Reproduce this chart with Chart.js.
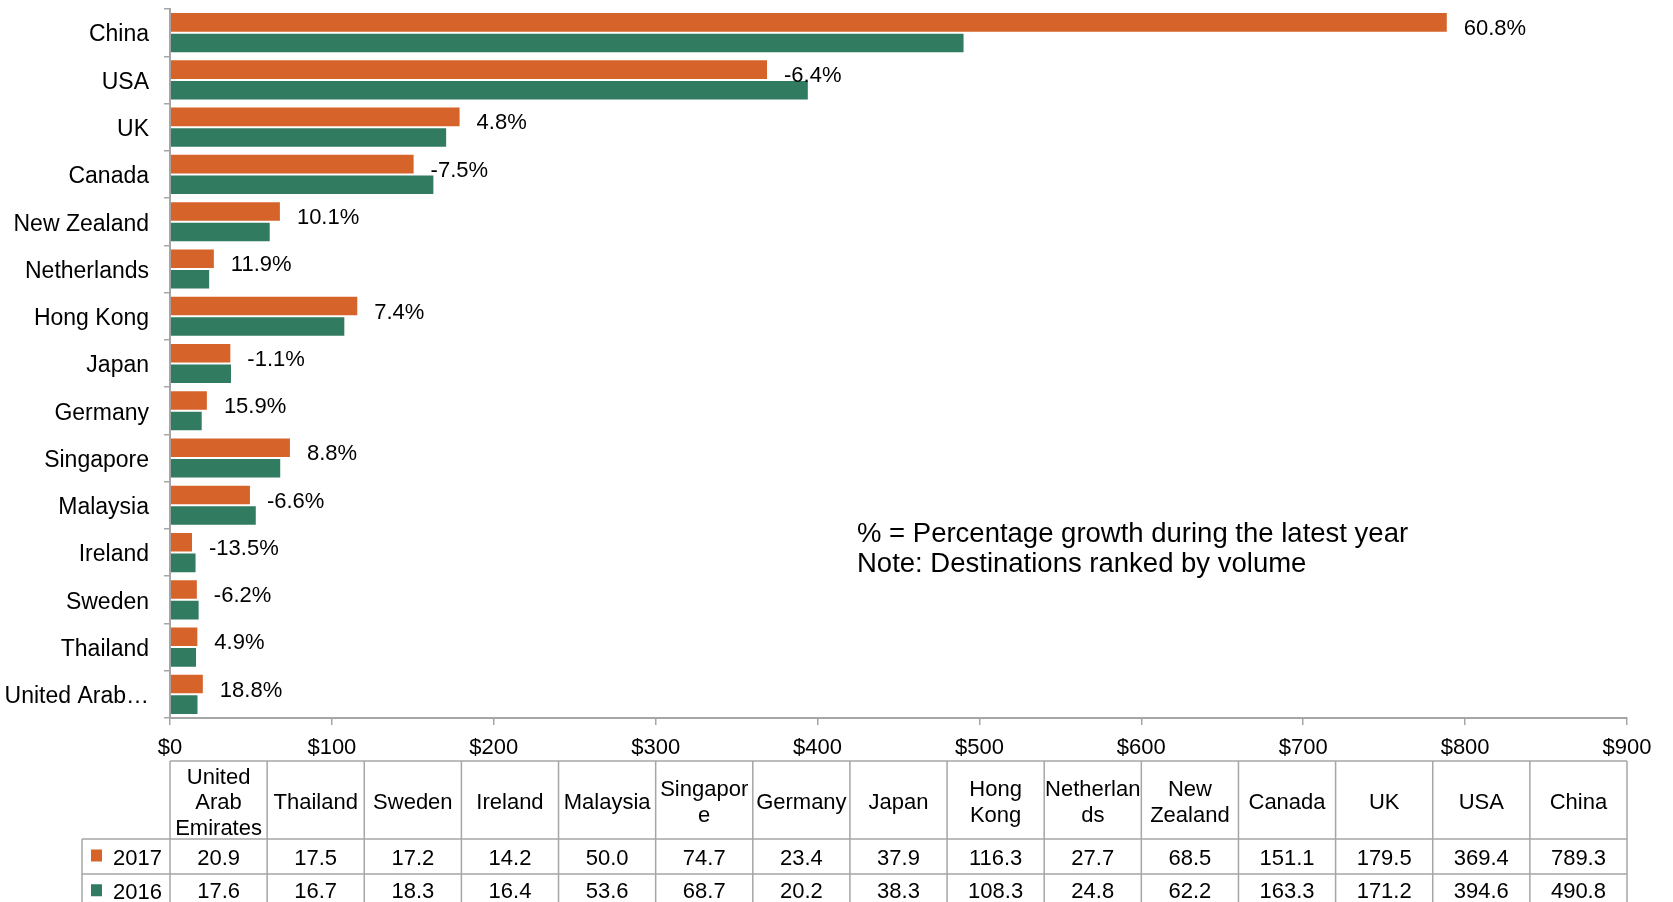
<!DOCTYPE html>
<html>
<head>
<meta charset="utf-8">
<title>Destinations by volume</title>
<script src="https://cdn.jsdelivr.net/npm/chart.js@4.4.1/dist/chart.umd.min.js"></script>
<style>
  html, body { margin: 0; padding: 0; background: #fff; }
  canvas { display: block; }
</style>
</head>
<body>
<canvas id="chart" width="1673" height="902"></canvas>
<script>
// Destinations, ranked by volume (top of the chart first)
const categories = ["China", "USA", "UK", "Canada", "New Zealand", "Netherlands", "Hong Kong", "Japan",
  "Germany", "Singapore", "Malaysia", "Ireland", "Sweden", "Thailand", "United Arab Emirates"];
const values2017 = [789.3, 369.4, 179.5, 151.1, 68.5, 27.7, 116.3, 37.9, 23.4, 74.7, 50.0, 14.2, 17.2, 17.5, 20.9];
const values2016 = [490.8, 394.6, 171.2, 163.3, 62.2, 24.8, 108.3, 38.3, 20.2, 68.7, 53.6, 16.4, 18.3, 16.7, 17.6];
// percentage growth during the latest year
const growthPct = [60.8, -6.4, 4.8, -7.5, 10.1, 11.9, 7.4, -1.1, 15.9, 8.8, -6.6, -13.5, -6.2, 4.9, 18.8];
const seriesNames = ["2017", "2016"];
const xTicks = [0, 100, 200, 300, 400, 500, 600, 700, 800, 900];
const noteLines = ["% = Percentage growth during the latest year", "Note: Destinations ranked by volume"];

// the data table underneath runs the other way round
const tableCategories = categories.slice().reverse();
const table2017 = values2017.slice().reverse();
const table2016 = values2016.slice().reverse();

const FONT = '"Liberation Sans", Arial, sans-serif';
const ORANGE = "#D6632A";
const GREEN = "#317B60";
const GRID = "#A6A6A6";

function shortName(name) {
  return name.length > 12 ? name.slice(0, 11) + "\u2026" : name;
}

// wrap a header into lines, breaking inside words that are too long
function wrapLabel(ctx, text, maxW) {
  const lines = [];
  let line = "";
  text.split(" ").forEach((word) => {
    const trial = line ? line + " " + word : word;
    if (ctx.measureText(trial).width <= maxW) {
      line = trial;
      return;
    }
    if (line) lines.push(line);
    let chunk = "";
    for (const ch of word) {
      if (chunk && ctx.measureText(chunk + ch).width > maxW) {
        lines.push(chunk);
        chunk = ch;
      } else {
        chunk += ch;
      }
    }
    line = chunk;
  });
  if (line) lines.push(line);
  return lines;
}

// growth percentages next to the 2017 bars
const growthLabels = {
  id: "growthLabels",
  afterDatasetsDraw(chart) {
    const ctx = chart.ctx;
    const meta = chart.getDatasetMeta(0);
    const xScale = chart.scales.x;
    ctx.save();
    ctx.font = "22px " + FONT;
    ctx.fillStyle = "#000";
    ctx.textAlign = "left";
    ctx.textBaseline = "middle";
    growthPct.forEach((g, i) => {
      const bar = meta.data[i];
      const x = xScale.getPixelForValue(values2017[i]) + 16;
      ctx.fillText(g.toFixed(1) + "%", x, bar.y + 6.5);
    });
    ctx.restore();
  }
};

// two-line note in the empty part of the plot
const noteText = {
  id: "noteText",
  afterDraw(chart) {
    const ctx = chart.ctx;
    const area = chart.chartArea;
    ctx.save();
    ctx.font = "27.5px " + FONT;
    ctx.fillStyle = "#000";
    ctx.textAlign = "left";
    ctx.textBaseline = "middle";
    noteLines.forEach((t, i) => {
      ctx.fillText(t, area.left + 687, area.top + 525 + i * 30);
    });
    ctx.restore();
  }
};

// data table under the x axis, columns taken from the hidden "table" scale
const dataTable = {
  id: "dataTable",
  afterDraw(chart) {
    const ctx = chart.ctx;
    const ts = chart.scales.table;
    const base = chart.chartArea.bottom;
    const headTop = base + 43;
    const headBottom = base + 121;
    const row1Bottom = base + 156;
    const row2Bottom = base + 190.5;
    const legendLeft = ts.left - 88;
    const left = ts.getPixelForValue(-0.5);
    const right = ts.getPixelForValue(tableCategories.length - 0.5);
    const colW = (right - left) / tableCategories.length;

    ctx.save();
    ctx.strokeStyle = GRID;
    ctx.lineWidth = 1.5;
    ctx.beginPath();
    ctx.moveTo(left, headTop); ctx.lineTo(right, headTop);
    [headBottom, row1Bottom, row2Bottom].forEach((y) => {
      ctx.moveTo(legendLeft, y); ctx.lineTo(right, y);
    });
    for (let i = 0; i <= tableCategories.length; i++) {
      const x = ts.getPixelForValue(i - 0.5);
      ctx.moveTo(x, headTop); ctx.lineTo(x, row2Bottom);
    }
    ctx.moveTo(legendLeft, headBottom); ctx.lineTo(legendLeft, row2Bottom);
    ctx.stroke();

    ctx.font = "22px " + FONT;
    ctx.fillStyle = "#000";
    ctx.textAlign = "center";
    ctx.textBaseline = "middle";
    const headMid = (headTop + headBottom) / 2 + 3;
    const lineH = 25.5;
    tableCategories.forEach((name, i) => {
      const cx = ts.getPixelForValue(i);
      const lines = wrapLabel(ctx, name, colW - 1);
      lines.forEach((l, k) => {
        ctx.fillText(l, cx, headMid + (k - (lines.length - 1) / 2) * lineH);
      });
      ctx.fillText(table2017[i].toFixed(1), cx, (headBottom + row1Bottom) / 2 + 2);
      ctx.fillText(table2016[i].toFixed(1), cx, (row1Bottom + row2Bottom) / 2 + 1);
    });

    // legend keys in the first column
    const rows = [[headBottom, row1Bottom, ORANGE], [row1Bottom, row2Bottom, GREEN]];
    rows.forEach(([top, bottom, color], r) => {
      const mid = (top + bottom) / 2;
      ctx.fillStyle = color;
      ctx.fillRect(legendLeft + 9, mid - 7, 11, 12);
      ctx.fillStyle = "#000";
      ctx.textAlign = "left";
      ctx.fillText(seriesNames[r], legendLeft + 31, mid + 2);
    });
    ctx.restore();
  }
};

new Chart(document.getElementById("chart"), {
  type: "bar",
  data: {
    labels: categories,
    datasets: [
      {
        label: seriesNames[0],
        data: values2017,
        backgroundColor: ORANGE,
        borderColor: "rgba(255,255,255,0.35)",
        borderWidth: 1,
        categoryPercentage: 0.87,
        barPercentage: 1.0,
        xAxisID: "x",
        yAxisID: "y"
      },
      {
        label: seriesNames[1],
        data: values2016,
        backgroundColor: GREEN,
        borderColor: "rgba(255,255,255,0.35)",
        borderWidth: 1,
        categoryPercentage: 0.87,
        barPercentage: 1.0,
        xAxisID: "x",
        yAxisID: "y"
      }
    ]
  },
  options: {
    indexAxis: "y",
    responsive: false,
    animation: false,
    devicePixelRatio: 1,
    layout: { padding: { top: 9, right: 46, left: 0, bottom: 0 } },
    plugins: {
      legend: { display: false },
      tooltip: { enabled: false }
    },
    scales: {
      x: {
        type: "linear",
        position: "bottom",
        min: 0,
        max: 900,
        afterBuildTicks: (s) => { s.ticks = xTicks.map((v) => ({ value: v })); },
        afterFit: (s) => { s.height = 184; },
        ticks: {
          callback: (v) => "$" + v,
          font: { family: FONT, size: 22 },
          color: "#000",
          padding: 10,
          maxRotation: 0
        },
        grid: { drawOnChartArea: false, drawTicks: true, tickLength: 7, color: GRID, lineWidth: 1.5 },
        border: { display: true, color: GRID, width: 2 }
      },
      table: {
        type: "category",
        axis: "x",
        position: "bottom",
        display: false,
        labels: tableCategories,
        offset: true
      },
      y: {
        type: "category",
        position: "left",
        afterFit: (s) => {
          s.width = 170;
          s.paddingTop = 0;
          s.paddingBottom = 0;
        },
        ticks: {
          callback: (v, i) => shortName(categories[i]),
          font: { family: FONT, size: 23 },
          color: "#000",
          padding: 15,
          labelOffset: 2.5,
          autoSkip: false
        },
        grid: { offset: true, drawOnChartArea: false, drawTicks: true, tickLength: 6, color: GRID, lineWidth: 1.5 },
        border: { display: true, color: GRID, width: 2 }
      }
    }
  },
  plugins: [growthLabels, noteText, dataTable]
});
</script>
</body>
</html>
